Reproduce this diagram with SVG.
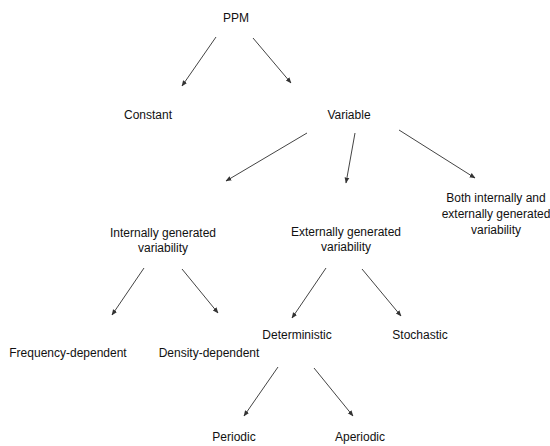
<svg xmlns="http://www.w3.org/2000/svg" width="550" height="446" viewBox="0 0 550 446">
<style>
text{font-family:"Liberation Sans",Arial,sans-serif;font-size:12px;fill:#111;text-anchor:middle}
.c line{stroke:#444;stroke-width:1;marker-end:url(#ah)}
</style>
<defs>
<marker id="ah" viewBox="0 0 10 10" refX="9" refY="5" markerWidth="6" markerHeight="6" markerUnits="userSpaceOnUse" orient="auto">
<path d="M0,1 L10,5 L0,9 z" fill="#333"/>
</marker>
</defs>
<rect width="550" height="446" fill="#fff"/>
<g id="ppm"><text x="236" y="22">PPM</text></g>
<g id="constant"><text x="148" y="119">Constant</text></g>
<g id="variable"><text x="349" y="119">Variable</text></g>
<g id="both"><text x="496" y="202">Both internally and</text><text x="496" y="218">externally generated</text><text x="496" y="234">variability</text></g>
<g id="internal"><text x="163" y="237">Internally generated</text><text x="163" y="252">variability</text></g>
<g id="external"><text x="346" y="236">Externally generated</text><text x="346" y="251">variability</text></g>
<g id="frequency"><text x="68" y="357">Frequency-dependent</text></g>
<g id="density"><text x="209" y="357">Density-dependent</text></g>
<g id="deterministic"><text x="297" y="339">Deterministic</text></g>
<g id="stochastic"><text x="420" y="339">Stochastic</text></g>
<g id="periodic"><text x="234" y="441">Periodic</text></g>
<g id="aperiodic"><text x="360" y="441">Aperiodic</text></g>
<g class="c" id="connectors">
<line x1="216" y1="37" x2="182" y2="86"/>
<line x1="253" y1="38" x2="291" y2="83"/>
<line x1="307" y1="133" x2="226" y2="181"/>
<line x1="355" y1="133" x2="346" y2="183"/>
<line x1="399" y1="130" x2="475" y2="178"/>
<line x1="144" y1="268" x2="112" y2="315"/>
<line x1="182" y1="269" x2="218" y2="313"/>
<line x1="326" y1="268" x2="292" y2="318"/>
<line x1="362" y1="269" x2="401" y2="316"/>
<line x1="278" y1="367" x2="244" y2="416"/>
<line x1="314" y1="368" x2="353" y2="416"/>
</g>
</svg>
